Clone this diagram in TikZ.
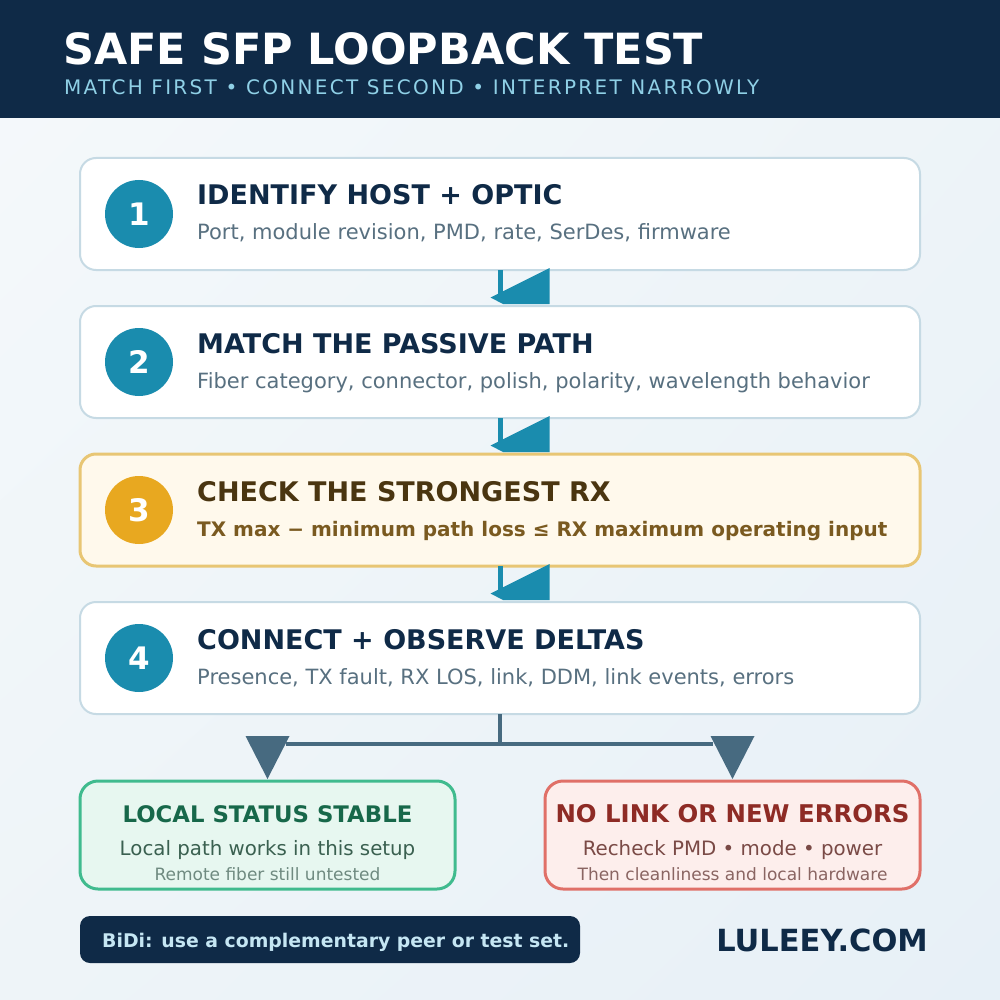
\documentclass[tikz,border=0pt]{standalone}
\usepackage{fontspec}
\usetikzlibrary{shadings}
\setmainfont{DejaVu Sans}
\newfontfamily\spaced[LetterSpace=11.5]{DejaVu Sans}
\newcommand\fs[1]{\fontsize{#1}{#1}\selectfont}
\definecolor{navy}{HTML}{0F2A47}
\definecolor{subt}{HTML}{8FD0E6}
\definecolor{teal}{HTML}{1A8CAE}
\definecolor{muted}{HTML}{587080}
\definecolor{boxline}{HTML}{C6DAE4}
\definecolor{bgA}{HTML}{F5F9FB}
\definecolor{bgM}{HTML}{EEF4F8}
\definecolor{bgB}{HTML}{E7F0F7}
\definecolor{amfill}{HTML}{FFF9EC}
\definecolor{amline}{HTML}{E8C674}
\definecolor{amdot}{HTML}{E8A820}
\definecolor{amttl}{HTML}{4A3510}
\definecolor{amdsc}{HTML}{7A5A20}
\definecolor{grline}{HTML}{40BB8E}
\definecolor{grfill}{HTML}{E7F7F0}
\definecolor{grttl}{HTML}{17684A}
\definecolor{grdsc}{HTML}{3A6050}
\definecolor{grsml}{HTML}{6F8A80}
\definecolor{rdline}{HTML}{E07068}
\definecolor{rdfill}{HTML}{FDEEEC}
\definecolor{rdttl}{HTML}{8E2B25}
\definecolor{rddsc}{HTML}{7A4A46}
\definecolor{rdsml}{HTML}{8A6562}
\definecolor{split}{HTML}{476A80}
\definecolor{pilltxt}{HTML}{C5E6F3}
\tikzset{
  stepbox/.style={draw=boxline, line width=2pt, fill=white, rounded corners=16pt,
    minimum width=840pt, minimum height=112pt, inner sep=0pt, outer sep=0pt},
  numdot/.style={circle, fill=teal, minimum size=68pt, inner sep=0pt, text=white,
    font=\bfseries\fs{31pt}},
  ttl/.style={anchor=base west, inner sep=0pt, text=navy, font=\bfseries\fs{27pt}},
  dsc/.style={anchor=base west, inner sep=0pt, text=muted, font=\fs{21pt}},
  outbox/.style={line width=3pt, rounded corners=18pt, minimum width=375pt,
    minimum height=108pt, inner sep=0pt, outer sep=0pt},
  otitle/.style={anchor=base, inner sep=0pt, font=\bfseries\fs{22.8pt}},
  odesc/.style={anchor=base, inner sep=0pt, font=\fs{19.8pt}},
  osmall/.style={anchor=base, inner sep=0pt, font=\fs{17pt}},
}
\begin{document}
\begin{tikzpicture}[x=1pt,y=-1pt]
\useasboundingbox (0,0) rectangle (1000,1000);
\shade[upper left=bgA, upper right=bgM, lower left=bgM, lower right=bgB] (0,0) rectangle (1000,1000);
\fill[navy] (0,0) rectangle (1000,118);
\node[anchor=base west, inner sep=0pt, text=white, font=\bfseries\fs{43pt}] (title) at (63,65) {SAFE SFP LOOPBACK TEST};
\node[anchor=base west, inner sep=0pt, text=subt, font=\spaced\fs{20pt}] (subtitle) at (64,95) {MATCH FIRST • CONNECT SECOND • INTERPRET NARROWLY};

% step boxes
\node[stepbox] (s1) at (500,214) {};
\node[stepbox] (s2) at (500,362) {};
\node[stepbox, fill=amfill, draw=amline, line width=3pt] (s3) at (500,510) {};
\node[stepbox] (s4) at (500,658) {};

% connectors between steps
\foreach \a/\b in {s1/s2, s2/s3, s3/s4} {
  \fill[teal] ([xshift=-2.5pt]\a.south) rectangle ([xshift=2.5pt,yshift=-27pt]\a.south);
  \fill[teal] ([xshift=-9.5pt,yshift=-27.5pt]\a.south) -- ([xshift=49.5pt,yshift=2pt]\a.south)
    -- ([xshift=49.5pt,yshift=2pt]\b.north) -- ([xshift=3pt,yshift=2pt]\b.north) -- cycle;
}

\node[numdot] (n1) at (139,214) {1};
\node[ttl] (t1) at (197,205) {IDENTIFY HOST + OPTIC};
\node[dsc] (d1) at (197,240) {Port, module revision, PMD, rate, SerDes, firmware};

\node[numdot] (n2) at (139,362) {2};
\node[ttl] (t2) at (197,353) {MATCH THE PASSIVE PATH};
\node[dsc] (d2) at (197,388) {Fiber category, connector, polish, polarity, wavelength behavior};

\node[numdot, fill=amdot] (n3) at (139,510) {3};
\node[ttl, text=amttl] (t3) at (197,501) {CHECK THE STRONGEST RX};
\node[dsc, text=amdsc, font=\bfseries\fs{20pt}] (d3) at (197,536) {TX max − minimum path loss ≤ RX maximum operating input};

\node[numdot] (n4) at (139,658) {4};
\node[ttl] (t4) at (197,649) {CONNECT + OBSERVE DELTAS};
\node[dsc] (d4) at (197,684) {Presence, TX fault, RX LOS, link, DDM, link events, errors};

% outcome boxes
\node[outbox, draw=grline, fill=grfill] (ok) at (267.5,835) {};
\node[outbox, draw=rdline, fill=rdfill] (bad) at (732.5,835) {};
\node[otitle, text=grttl] (okt) at (267.5,822) {LOCAL STATUS STABLE};
\node[odesc, text=grdsc] (okd) at (267.5,855) {Local path works in this setup};
\node[osmall, text=grsml] (oks) at (267.5,880) {Remote fiber still untested};
\node[otitle, text=rdttl, font=\bfseries\fs{24.4pt}] (badt) at (732.5,822) {NO LINK OR NEW ERRORS};
\node[odesc, text=rddsc] (badd) at (732.5,855) {Recheck PMD • mode • power};
\node[osmall, text=rdsml] (bads) at (732.5,880) {Then cleanliness and local hardware};

% split connector
\coordinate (fork) at (500,744);
\coordinate (lend) at (286,744);
\coordinate (rend) at (713,744);
\draw[split, line width=4pt] (s4.south) -- (fork);
\draw[split, line width=4pt] (lend) -- (rend);
\fill[split] ([yshift=2pt]ok.north) -- ++(-22,-43) -- ++(44,0) -- cycle;
\fill[split] ([yshift=2pt]bad.north) -- ++(-22,-43) -- ++(44,0) -- cycle;

% footer
\node[fill=navy, rounded corners=10pt, minimum width=500pt, minimum height=47pt, inner sep=0pt] (pill) at (330,939.5) {};
\node[anchor=base west, inner sep=0pt, text=pilltxt, font=\bfseries\fs{18.85pt}] (pillt) at (102,947) {BiDi: use a complementary peer or test set.};
\node[anchor=base east, inner sep=0pt, text=navy, font=\bfseries\fs{30.5pt}] (brand) at (928,951) {LULEEY.COM};
\end{tikzpicture}
\end{document}
